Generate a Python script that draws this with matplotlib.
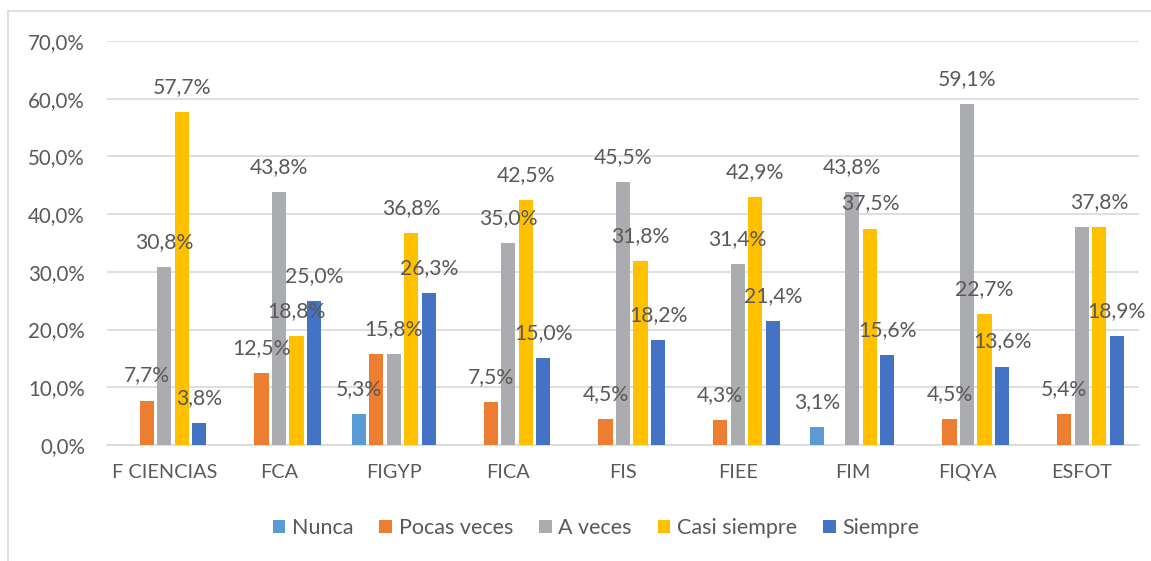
import numpy as np
import matplotlib
matplotlib.use("Agg")
import matplotlib.pyplot as plt
from matplotlib.patches import Rectangle

plt.rcParams['font.family'] = ['Lato', 'DejaVu Sans']

categories = ["F CIENCIAS", "FCA", "FIGYP", "FICA", "FIS", "FIEE", "FIM", "FIQYA", "ESFOT"]
series = ["Nunca", "Pocas veces", "A veces", "Casi siempre", "Siempre"]

nunca = [0.0, 0.0, 5.3, 0.0, 0.0, 0.0, 3.1, 0.0, 0.0]
pocas = [7.7, 12.5, 15.8, 7.5, 4.5, 4.3, 0.0, 4.5, 5.4]
a_veces = [30.8, 43.8, 15.8, 35.0, 45.5, 31.4, 43.8, 59.1, 37.8]
casi = [57.7, 18.8, 36.8, 42.5, 31.8, 42.9, 37.5, 22.7, 37.8]
siempre = [3.8, 25.0, 26.3, 15.0, 18.2, 21.4, 15.6, 13.6, 18.9]

values = [nunca, pocas, a_veces, casi, siempre]
colors = ["#5B9BD5", "#ED7D31", "#ABACB0", "#FFC000", "#4472C4"]

# labels that are not shown in the original (duplicates)
hidden = {(1, 2), (2, 8)}

text_col = "#595959"

fig = plt.figure(figsize=(11.51, 5.61), dpi=100)
ax = fig.add_axes([107 / 1151, 1 - 445 / 561, (1139 - 107) / 1151, (445 - 41) / 561])

# outer chart border
fig.patches.append(Rectangle((8 / 1151, -0.1), 1.2, 1 - 11 / 561 + 0.1, transform=fig.transFigure,
                             fill=False, edgecolor="#d9d9d9", linewidth=1.2))

x = np.arange(len(categories))
pitch = 0.153
width = 0.123
for i, (name, vals) in enumerate(zip(series, values)):
    xs = x + (i - 2) * pitch
    ax.bar(xs, vals, width, color=colors[i], label=name, zorder=3)
    for j, v in enumerate(vals):
        if v == 0 or (i, j) in hidden:
            continue
        ax.annotate(f"{v:.1f}%".replace(".", ","), (xs[j], v), xytext=(0, 18),
                    textcoords="offset points", ha="center", va="center",
                    fontsize=15.2, color=text_col, zorder=4)

ax.set_xlim(-0.5, len(categories) - 0.5)
ax.set_ylim(0, 70)
ax.set_yticks(np.arange(0, 71, 10))
ax.set_yticklabels([f"{t:.1f}%".replace(".", ",") for t in np.arange(0, 71, 10)])
ax.set_xticks(x)
ax.set_xticklabels(categories)
ax.tick_params(axis="x", length=0, labelsize=14.3, colors=text_col, pad=14)
ax.tick_params(axis="y", length=0, labelsize=14.8, colors=text_col, pad=16)
ax.grid(axis="y", color="#d9d9d9", linewidth=1.2, zorder=0)
for s in ["top", "right", "left"]:
    ax.spines[s].set_visible(False)
ax.spines["bottom"].set_color("#d9d9d9")
ax.spines["bottom"].set_linewidth(1.2)

fig.legend(loc="center", bbox_to_anchor=(596 / 1151, 1 - 528 / 561), ncol=5, frameon=False,
           fontsize=15.5, handlelength=0.6, handleheight=0.6, handletextpad=0.3,
           columnspacing=1.2, labelcolor=text_col)

fig.savefig("out.png", dpi=100)
